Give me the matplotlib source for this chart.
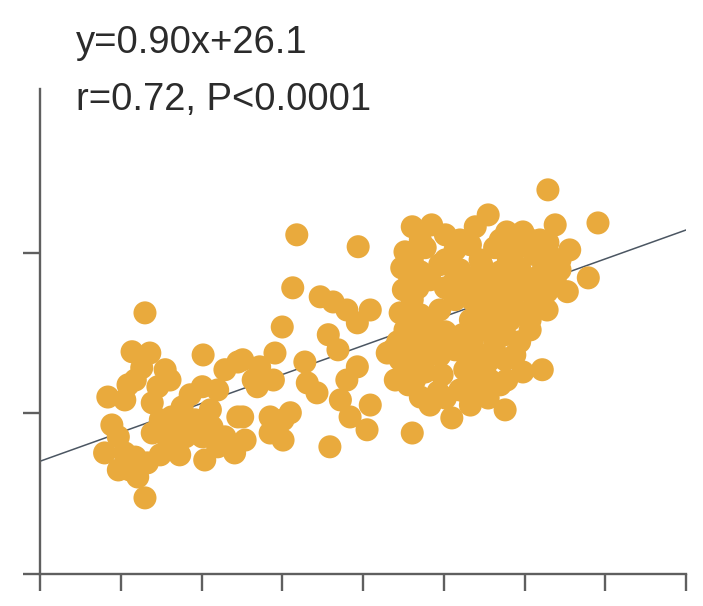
import numpy as np
import matplotlib
matplotlib.use("Agg")
import matplotlib.pyplot as plt

# Observations (x, y)
x_vals = [
    # lower-left group
    23.0, 21.4, 23.6, 25.5, 24.6, 21.8, 18.4, 20.5, 23.9, 30.2,
    34.5, 32.9, 30.1, 32.0, 34.5, 27.6, 26.3, 29.2, 31.3, 32.9,
    30.1, 28.0, 34.1, 30.4, 32.0, 25.9, 23.9, 19.7, 18.0, 20.5,
    19.7, 22.1, 23.3, 21.8, 23.0, 22.6, 20.9, 26.1, 18.9, 24.9,
    27.3, 28.6, 26.7, 24.9, 21.1, 35.4, 31.1, 28.6,
    # middle group
    41.8, 49.4, 41.3, 44.7, 46.3, 48.0, 49.3, 50.9, 40.0, 45.7,
    46.9, 39.1, 42.8, 35.1, 37.2, 38.9, 43.1, 44.3, 36.9, 49.3,
    48.0, 47.2, 48.4, 50.5, 50.9, 38.5, 40.1, 41.0, 38.5, 40.1,
    45.9, 35.1, 36.4, 53.0,
    # upper-right group
    56.1, 58.5, 60.2, 63.9, 65.5, 67.8, 69.8, 71.9, 73.8,
    55.2, 57.7, 61.4, 63.3, 66.3, 68.8, 71.3, 73.4, 75.6,
    54.8, 57.1, 59.5, 62.0, 64.7, 67.0, 69.4, 71.9, 74.4,
    55.0, 56.8, 60.2, 62.6, 65.1, 67.6, 70.1, 72.8, 75.3,
    54.6, 57.1, 59.5, 64.5, 67.0, 69.4, 72.8,
    55.2, 57.7, 60.2, 62.3, 65.1, 67.6, 70.7,
    53.7, 56.1, 58.5, 61.4, 63.9, 66.3, 68.8,
    55.2, 57.7, 59.8, 62.6, 65.1, 67.8, 69.8, 72.2,
    55.6, 57.1, 59.3, 62.0, 64.5, 67.0,
    58.3, 61.0, 63.3, 67.6, 56.1,
    72.9, 79.1, 77.9,
    57.1, 62.0, 67.0, 70.7, 72.9,
    56.1, 60.2, 64.5, 68.0, 72.5, 74.4,
    55.8, 58.3, 61.4, 63.9, 66.3, 68.8, 71.1, 73.8,
    56.1, 61.4, 63.5, 66.0, 68.5, 71.3,
    55.8, 58.5, 63.3, 65.7, 68.2, 70.7,
    54.3, 56.8, 59.5, 63.5, 66.3, 69.4,
    54.6, 57.3, 59.5, 63.0, 65.7, 67.6,
    54.0, 56.4, 63.5, 65.7,
    60.2, 63.3, 65.5,
]
y_vals = [
    # lower-left group
    81.3, 69.2, 68.8, 63.6, 58.3, 60.4, 55.1, 54.2, 53.3, 68.2,
    66.0, 63.6, 58.3, 57.3, 48.9, 52.0, 48.9, 48.0, 45.8, 42.7,
    42.7, 42.7, 37.7, 35.5, 39.6, 41.7, 43.9, 42.7, 37.7, 37.7,
    32.4, 30.2, 34.6, 36.4, 23.7, 64.2, 58.9, 60.4, 46.4, 37.1,
    37.1, 46.4, 44.9, 48.0, 32.4, 41.7, 51.1, 55.8,
    # middle group
    105.6, 101.9, 89.1, 86.3, 84.7, 82.2, 78.2, 82.2, 76.9, 74.5,
    69.8, 68.8, 66.0, 66.7, 64.5, 60.4, 59.5, 56.4, 58.3, 64.5,
    60.4, 54.2, 48.9, 44.9, 52.6, 48.9, 48.0, 50.2, 43.9, 41.7,
    39.6, 48.9, 60.4, 68.8,
    # upper-right group
    108.1, 108.7, 105.6, 108.1, 111.8, 106.5, 106.5, 104.0, 108.7,
    100.3, 101.6, 100.9, 102.5, 101.6, 100.9, 99.4, 98.4, 100.9,
    95.3, 94.1, 96.3, 94.7, 96.3, 94.1, 95.3, 93.1, 94.7,
    88.5, 89.1, 89.1, 87.9, 89.1, 87.9, 88.5, 87.9, 87.9,
    81.3, 80.7, 82.2, 81.6, 82.9, 81.6, 82.2,
    76.0, 75.4, 75.4, 74.5, 76.0, 74.5, 76.0,
    69.8, 69.8, 69.2, 69.8, 69.2, 69.8, 68.2,
    64.2, 62.9, 62.0, 63.6, 64.2, 60.4, 62.9, 63.6,
    58.9, 55.1, 56.7, 57.3, 57.9, 58.9,
    52.6, 48.6, 52.6, 51.1, 43.9,
    119.6, 109.3, 92.2,
    104.0, 104.0, 104.0, 104.0, 103.2,
    97.8, 97.8, 97.8, 97.8, 97.8, 97.8,
    91.6, 91.6, 91.6, 91.6, 91.6, 91.6, 91.6, 91.6,
    85.4, 85.4, 85.4, 85.4, 85.4, 85.4,
    79.1, 79.1, 79.1, 79.1, 79.1, 79.1,
    72.3, 72.3, 72.3, 72.3, 72.3, 72.3,
    66.7, 66.7, 68.0, 66.7, 66.7, 66.7,
    60.4, 60.4, 60.4, 60.4,
    54.8, 54.8, 54.8,
]

# Fitted line and statistics
slope = 0.90
intercept = 26.1
r_value = 0.72
p_label = "P<0.0001"

x_ticks = [10, 20, 30, 40, 50, 60, 70, 80, 90]
y_ticks = [0, 50, 100]

point_color = "#E9AA3D"
axis_color = "#5f5f5f"
text_color = "#2b2b2b"

fig = plt.figure(figsize=(7.03, 6.06), dpi=100)
fig.patch.set_facecolor("white")
ax = fig.add_axes([40 / 703, 32 / 606, 646 / 703, 485 / 606])

line_x = np.array([x_ticks[0], x_ticks[-1]], dtype=float)
ax.plot(line_x, slope * line_x + intercept, color="#4b5662", lw=1.1, zorder=1)
ax.scatter(x_vals, y_vals, s=275, color=point_color, edgecolors="none", zorder=2)

ax.set_xlim(x_ticks[0], x_ticks[-1])
ax.set_ylim(0, 151)
ax.set_xticks(x_ticks)
ax.set_yticks(y_ticks)
ax.set_xticklabels([])
ax.set_yticklabels([])

for side in ("top", "right"):
    ax.spines[side].set_visible(False)
for side in ("left", "bottom"):
    ax.spines[side].set_color(axis_color)
    ax.spines[side].set_linewidth(1.7)
ax.tick_params(direction="out", length=12, width=1.7, color=axis_color)

fig.text(76 / 703, 1 - 53 / 606, f"y={slope:.2f}x+{intercept}",
         fontsize=27.5, family="Liberation Sans", color=text_color, va="baseline")
fig.text(76 / 703, 1 - 110 / 606, f"r={r_value:.2f}, {p_label}",
         fontsize=27.5, family="Liberation Sans", color=text_color, va="baseline")

fig.savefig("out.png", dpi=100, facecolor="white")
